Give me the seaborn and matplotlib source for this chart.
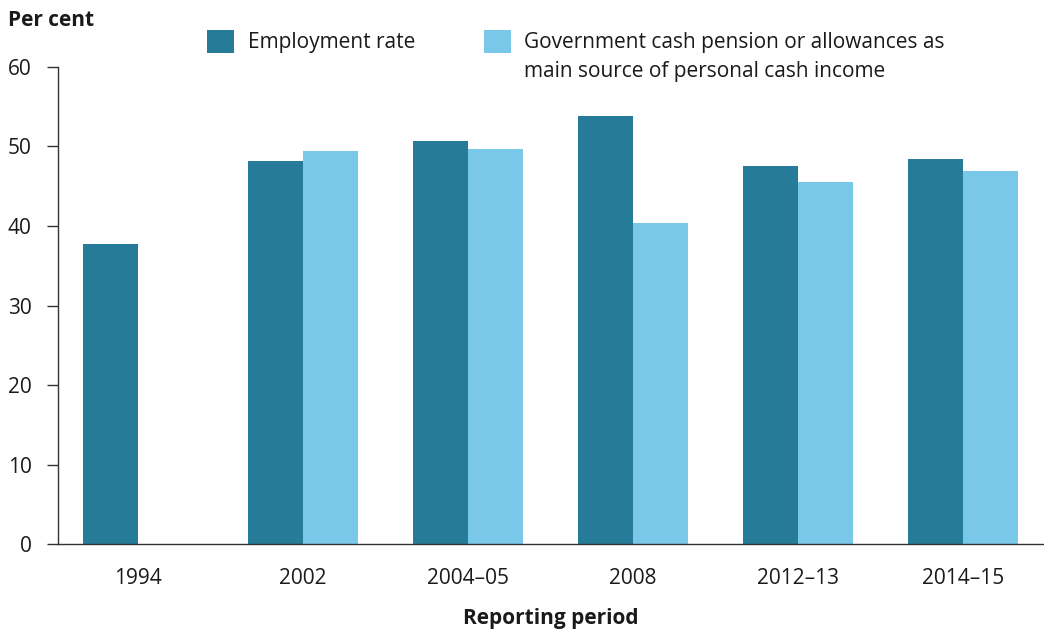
import matplotlib
matplotlib.use("Agg")
import matplotlib.pyplot as plt
import seaborn as sns
import pandas as pd
import numpy as np
from matplotlib.patches import Patch

periods = ["1994", "2002", "2004–05", "2008", "2012–13", "2014–15"]
employment = [37.7, 48.2, 50.7, 53.8, 47.5, 48.4]
government = [np.nan, 49.4, 49.6, 40.4, 45.5, 46.9]
series_names = ["Employment rate",
                "Government cash pension or allowances as main source of personal cash income"]
legend_line1 = ["Employment rate", "Government cash pension or allowances as"]
legend_line2 = "main source of personal cash income"
colors = ["#267B98", "#7AC8E9"]
yticks = [0, 10, 20, 30, 40, 50, 60]

rows = []
for p, e, g in zip(periods, employment, government):
    rows.append({"period": p, "series": series_names[0], "value": e})
    rows.append({"period": p, "series": series_names[1], "value": g})
df = pd.DataFrame(rows)

sns.set_theme(style="white")
plt.rcParams["font.family"] = ["Open Sans", "DejaVu Sans"]
FS = 15
TXT = "#1a1a1a"
W, H = 1044, 630

fig = plt.figure(figsize=(10.44, 6.3), dpi=100)
ax = fig.add_axes([58/W, 1 - 544.3/H, 1 - 58/W, (544.3 - 66.7)/H])

sns.barplot(data=df, x="period", y="value", hue="series", order=periods,
            hue_order=series_names, palette=colors, width=0.667,
            linewidth=0, saturation=1, ax=ax, legend=False)

ax.set_ylim(0, 60)
ax.set_xlim(-0.485, 5.49)
ax.set_yticks(yticks)
ax.set_yticklabels([str(t) for t in yticks], fontsize=FS, color=TXT)
ax.tick_params(axis="y", length=8, width=1, color="#333333", pad=11, left=True)
ax.tick_params(axis="x", length=0, pad=17, labelsize=FS, labelcolor=TXT)
for s in ["top", "right"]:
    ax.spines[s].set_visible(False)
for s in ["left", "bottom"]:
    ax.spines[s].set_color("#333333")
    ax.spines[s].set_linewidth(1)
ax.grid(False)
ax.set_ylabel("")
ax.set_xlabel("Reporting period", fontsize=FS, fontweight="bold", labelpad=14, color=TXT)

fig.text(8/W, 1 - 20/H, "Per cent", fontsize=FS, fontweight="bold",
         ha="left", va="center", color=TXT)

handles = [Patch(facecolor=c, edgecolor="none") for c in colors]
leg = fig.legend(handles, legend_line1, ncol=2, loc="upper left",
                 bbox_to_anchor=(207/W, 1 - 30/H), frameon=False,
                 fontsize=FS, handlelength=1.3, handleheight=1.3,
                 handletextpad=0.65, columnspacing=3.3, borderaxespad=0,
                 borderpad=0)
for t in leg.get_texts():
    t.set_color(TXT)

fig.canvas.draw()
bb = leg.get_texts()[1].get_window_extent(renderer=fig.canvas.get_renderer())
fig.text(bb.x0 / W, (bb.y0 - 29 + (bb.height / 2)) / H, legend_line2,
         fontsize=FS, color=TXT, ha="left", va="center")

fig.savefig("out.png", dpi=100)
